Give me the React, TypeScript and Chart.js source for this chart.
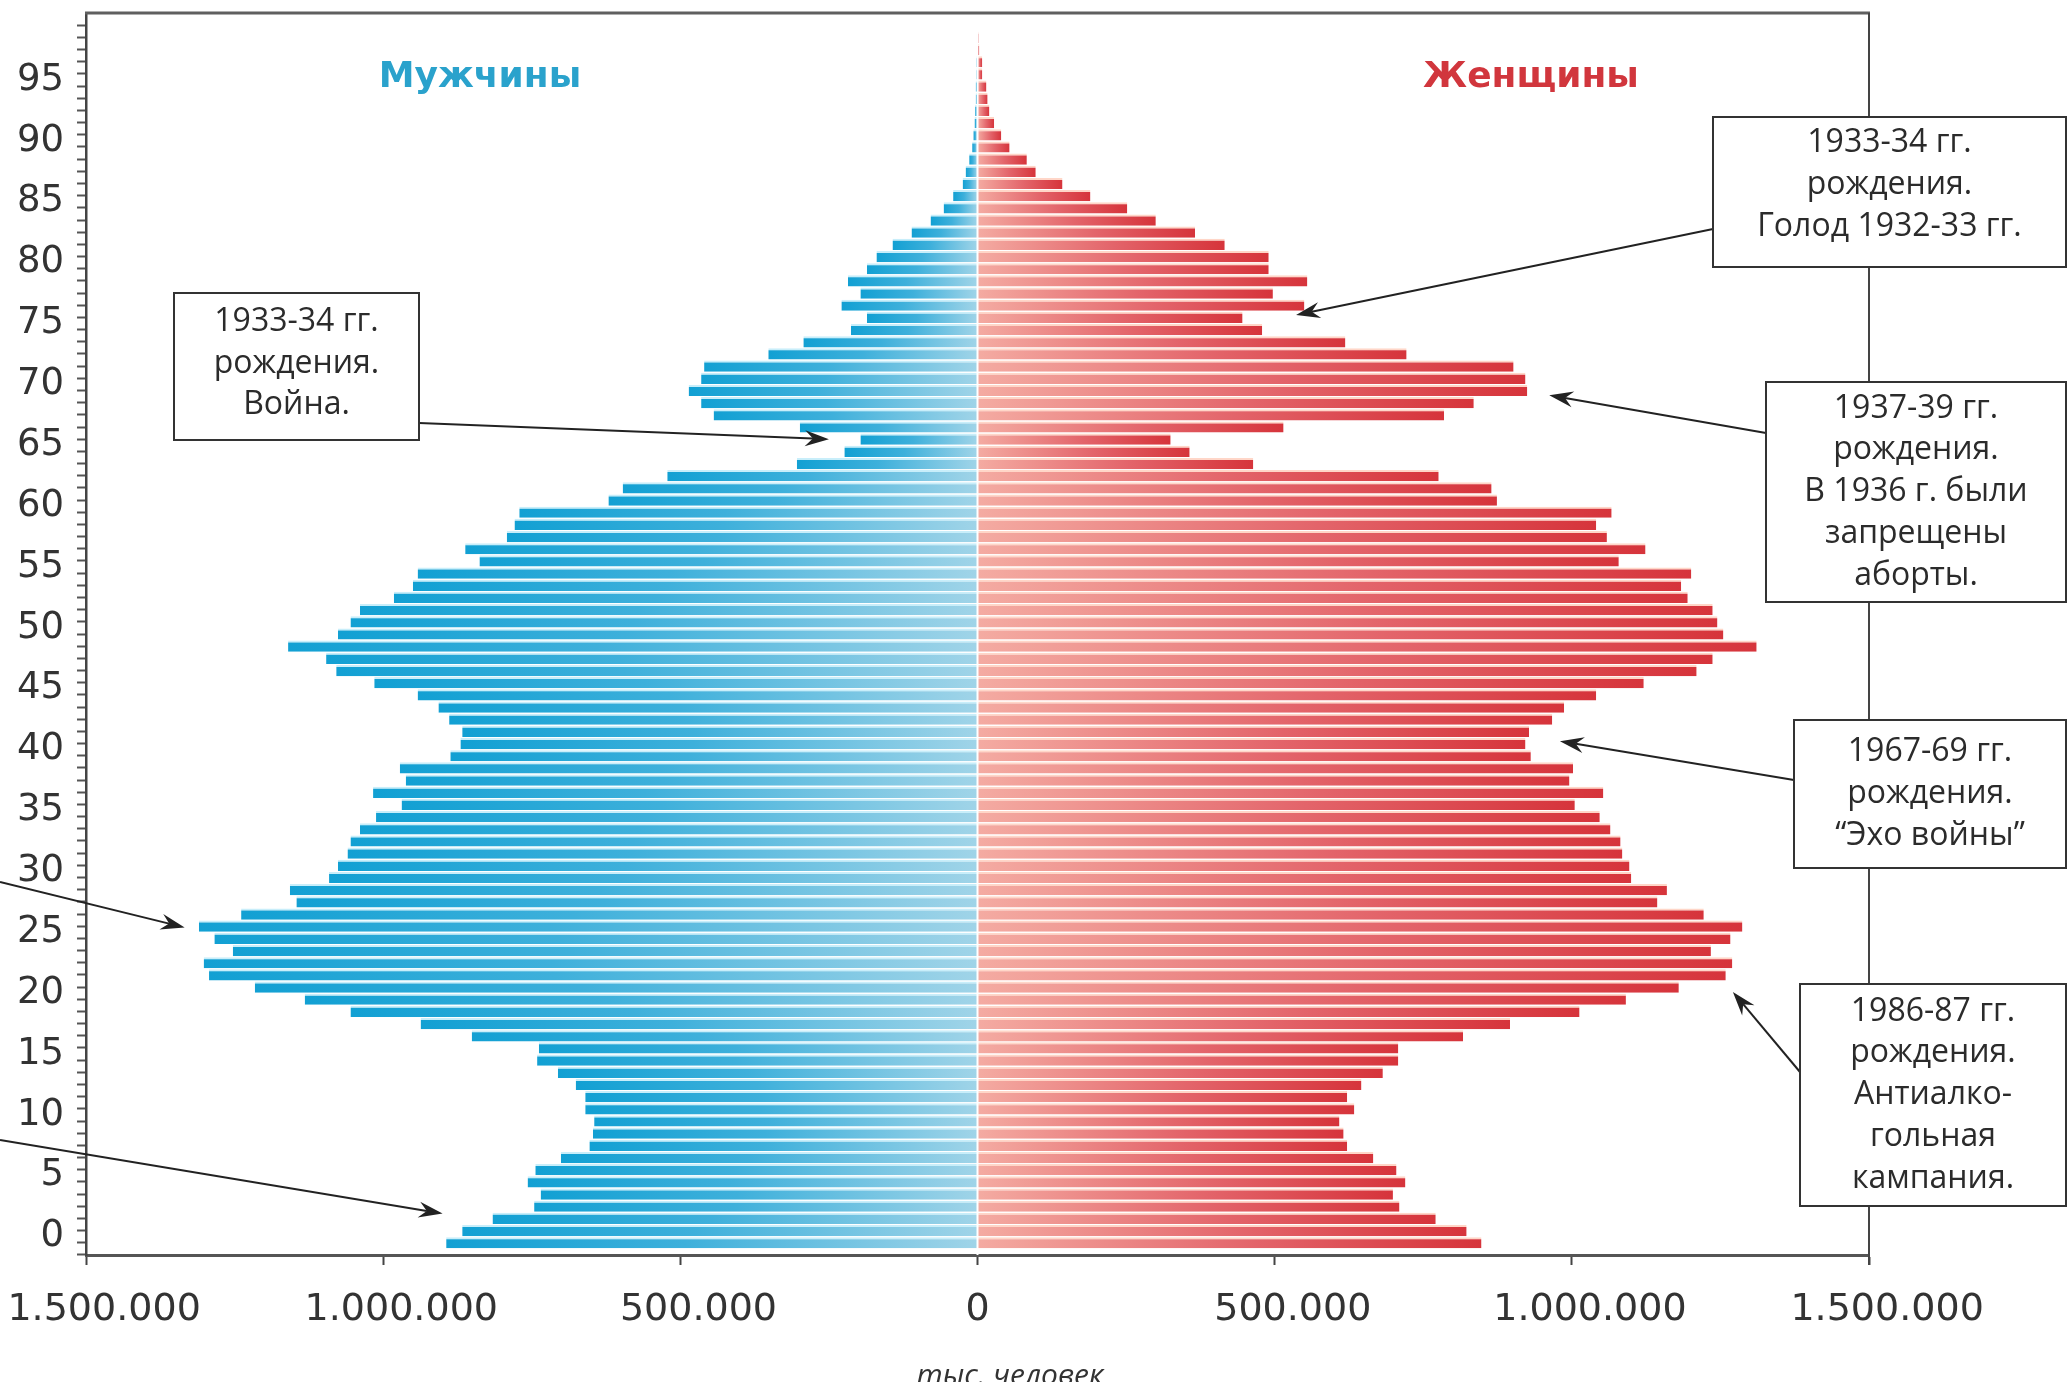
import React, { useEffect, useRef } from 'react';
import { Chart, registerables } from 'chart.js';

Chart.register(...registerables);

// Age (single years), bottom bar = 0
const ages = [
  0, 1, 2, 3, 4, 5, 6, 7, 8, 9, 10, 11, 12, 13, 14, 15, 16, 17, 18, 19,
  20, 21, 22, 23, 24, 25, 26, 27, 28, 29, 30, 31, 32, 33, 34, 35, 36, 37, 38, 39,
  40, 41, 42, 43, 44, 45, 46, 47, 48, 49, 50, 51, 52, 53, 54, 55, 56, 57, 58, 59,
  60, 61, 62, 63, 64, 65, 66, 67, 68, 69, 70, 71, 72, 73, 74, 75, 76, 77, 78, 79,
  80, 81, 82, 83, 84, 85, 86, 87, 88, 89, 90, 91, 92, 93, 94, 95, 96, 97, 98, 99,
];

// Мужчины (persons), by age 0..99
const male = [
  894000, 867000, 816000, 746000, 735000, 757000, 744000, 701000, 653000, 647000,
  645000, 660000, 660000, 676000, 706000, 741000, 738000, 851000, 937000, 1055000,
  1132000, 1216000, 1293000, 1302000, 1253000, 1284000, 1310000, 1239000, 1146000, 1157000,
  1091000, 1076000, 1060000, 1055000, 1039000, 1012000, 969000, 1017000, 962000, 972000,
  887000, 870000, 867000, 889000, 907000, 942000, 1015000, 1079000, 1096000, 1160000,
  1076000, 1055000, 1039000, 982000, 950000, 942000, 838000, 862000, 792000, 779000,
  771000, 621000, 597000, 522000, 304000, 224000, 197000, 299000, 444000, 465000,
  486000, 465000, 460000, 352000, 293000, 213000, 186000, 229000, 197000, 218000,
  186000, 170000, 143000, 111000, 79000, 57000, 41000, 25000, 20000, 14000,
  9000, 7000, 5000, 4000, 3000, 3000, 2000, 2000, 1000, 1000,
];

// Женщины (persons), by age 0..99
const female = [
  848000, 823000, 771000, 710000, 699000, 720000, 705000, 666000, 622000, 616000,
  609000, 634000, 622000, 646000, 682000, 708000, 708000, 817000, 896000, 1013000,
  1091000, 1180000, 1259000, 1270000, 1234000, 1267000, 1287000, 1222000, 1144000, 1160000,
  1100000, 1097000, 1085000, 1082000, 1065000, 1047000, 1005000, 1053000, 996000, 1002000,
  931000, 922000, 928000, 967000, 987000, 1041000, 1121000, 1210000, 1237000, 1311000,
  1255000, 1245000, 1237000, 1195000, 1184000, 1201000, 1079000, 1124000, 1059000, 1041000,
  1067000, 874000, 865000, 776000, 464000, 357000, 325000, 515000, 785000, 835000,
  925000, 922000, 902000, 722000, 619000, 479000, 446000, 550000, 497000, 555000,
  490000, 490000, 416000, 366000, 300000, 252000, 190000, 143000, 98000, 83000,
  54000, 40000, 28000, 20000, 17000, 15000, 8000, 8000, 3000, 2000,
];

const xTickValues = [-1500000, -1000000, -500000, 0, 500000, 1000000, 1500000];
const yTickLabels = ['0', '5', '10', '15', '20', '25', '30', '35', '40', '45',
  '50', '55', '60', '65', '70', '75', '80', '85', '90', '95'];

const maleLabel = 'Мужчины';
const femaleLabel = 'Женщины';
const unitLabel = 'тыс. человек';

// Callout boxes (layout in canvas px); arrow tips given in data units (value, age)
const callouts = [
  { lines: ['1933-34 гг.', 'рождения.', 'Война.'], x: 174, y: 293, w: 245, h: 147, dy: -3,
    from: [419, 423], tip: [-250000, 66.0] },
  { lines: ['1933-34 гг.', 'рождения.', 'Голод 1932-33 гг.'], x: 1713, y: 117, w: 353, h: 150, dy: -7,
    from: [1713, 229], tip: [536000, 76.2] },
  { lines: ['1937-39 гг.', 'рождения.', 'В 1936 г. были', 'запрещены', 'аборты.'], x: 1766, y: 382, w: 300, h: 220, dy: 0,
    from: [1766, 433], tip: [962000, 69.6] },
  { lines: ['1967-69 гг.', 'рождения.', '“Эхо войны”'], x: 1794, y: 720, w: 272, h: 148, dy: 0,
    from: [1794, 780], tip: [980000, 41.2] },
  { lines: ['1986-87 гг.', 'рождения.', 'Антиалко-', 'гольная', 'кампания.'], x: 1800, y: 984, w: 266, h: 222, dy: 0,
    from: [1800, 1072], tip: [1271000, 20.6] },
];
// Arrows whose boxes lie outside the picture
const strayArrows = [
  { from: [0, 882], tip: [-1334000, 25.9] },
  { from: [0, 1140], tip: [-900000, 2.4] },
];

function fmt(v: number): string {
  const s = String(Math.abs(Math.round(v)));
  return s.replace(/\B(?=(\d{3})+(?!\d))/g, '.');
}

function drawArrow(ctx: CanvasRenderingContext2D, x1: number, y1: number, x2: number, y2: number) {
  const ang = Math.atan2(y2 - y1, x2 - x1);
  const c = Math.cos(ang), s = Math.sin(ang);
  const L = 24, W = 8, N = 16;
  const bx = x2 - c * N, by = y2 - s * N;
  ctx.beginPath();
  ctx.moveTo(x1, y1);
  ctx.lineTo(bx, by);
  ctx.stroke();
  ctx.beginPath();
  ctx.moveTo(x2, y2);
  ctx.lineTo(x2 - L * c + W * s, y2 - L * s - W * c);
  ctx.lineTo(bx, by);
  ctx.lineTo(x2 - L * c - W * s, y2 - L * s + W * c);
  ctx.closePath();
  ctx.fill();
}

function barGradient(context: any, side: 'm' | 'f') {
  const dark = side === 'm' ? '#14a0d2' : '#d6343b';
  if (context.type !== 'data') return dark;
  const chart = context.chart;
  const xs = chart.scales?.x;
  if (!chart.chartArea || !xs) return dark;
  const v = context.parsed?.x ?? 0;
  const x0 = xs.getPixelForValue(0);
  const x1 = xs.getPixelForValue(v);
  if (Math.abs(x1 - x0) < 2) return dark;
  const g = chart.ctx.createLinearGradient(x1, 0, x0, 0);
  if (side === 'm') {
    g.addColorStop(0, '#12a0d3');
    g.addColorStop(0.45, '#3eb0db');
    g.addColorStop(1, '#a0d4e8');
  } else {
    g.addColorStop(0, '#d6343b');
    g.addColorStop(0.45, '#e3646a');
    g.addColorStop(1, '#f4aba2');
  }
  return g;
}

const overlayPlugin = {
  id: 'pyramidOverlay',
  afterDatasetsDraw(chart: any) {
    const { ctx, chartArea, scales } = chart;
    const x0 = scales.x.getPixelForValue(0);
    ctx.save();
    ctx.fillStyle = '#ffffff';
    ctx.fillRect(x0 - 1, chartArea.top + 2, 2, chartArea.bottom - chartArea.top - 2);
    ctx.restore();
  },
  afterDraw(chart: any) {
    const { ctx, chartArea, scales } = chart;
    const xs = scales.x, ys = scales.y;
    ctx.save();
    // frame: top and right
    ctx.strokeStyle = '#5f5f5f';
    ctx.lineWidth = 3;
    ctx.beginPath();
    ctx.moveTo(chartArea.left - 1, chartArea.top);
    ctx.lineTo(chartArea.right + 1, chartArea.top);
    ctx.stroke();
    ctx.strokeStyle = '#444';
    ctx.lineWidth = 2;
    ctx.beginPath();
    ctx.moveTo(chartArea.right, chartArea.top);
    ctx.lineTo(chartArea.right, chartArea.bottom + 10);
    ctx.stroke();

    // side titles
    ctx.font = 'bold 36px "DejaVu Sans"';
    ctx.textAlign = 'center';
    ctx.textBaseline = 'alphabetic';
    ctx.fillStyle = '#2aa2cc';
    ctx.fillText(maleLabel, 480, 87);
    ctx.fillStyle = '#d1363d';
    ctx.fillText(femaleLabel, 1531, 87);

    // unit label
    ctx.font = 'italic 30px "Open Sans"';
    ctx.fillStyle = '#333';
    ctx.fillText(unitLabel, 1010, 1385);

    // arrows
    ctx.strokeStyle = '#222';
    ctx.fillStyle = '#222';
    ctx.lineWidth = 2;
    const tipPx = (t: number[]) => [xs.getPixelForValue(t[0]), ys.getPixelForValue(t[1])];
    for (const a of strayArrows) {
      const [tx, ty] = tipPx(a.tip);
      drawArrow(ctx, a.from[0], a.from[1], tx, ty);
    }
    for (const c of callouts) {
      const [tx, ty] = tipPx(c.tip);
      drawArrow(ctx, c.from[0], c.from[1], tx, ty);
    }
    // boxes
    for (const c of callouts) {
      ctx.fillStyle = '#ffffff';
      ctx.fillRect(c.x, c.y, c.w, c.h);
      ctx.strokeStyle = '#333';
      ctx.lineWidth = 2;
      ctx.strokeRect(c.x, c.y, c.w, c.h);
      ctx.fillStyle = '#2b2b2b';
      ctx.font = '32px "Open Sans"';
      ctx.textAlign = 'center';
      ctx.textBaseline = 'middle';
      const lh = 41.7;
      const cy = c.y + c.h / 2 + c.dy;
      const start = cy - ((c.lines.length - 1) * lh) / 2;
      c.lines.forEach((ln, i) => ctx.fillText(ln, c.x + c.w / 2, start + i * lh));
    }
    ctx.restore();
  },
};

export default function App() {
  const ref = useRef<HTMLCanvasElement | null>(null);

  useEffect(() => {
    if (!ref.current) return;
    const chart = new Chart(ref.current, {
      type: 'bar',
      data: {
        datasets: [
          {
            label: maleLabel,
            data: ages.map((a, i) => ({ x: -male[i], y: a })),
            backgroundColor: (c: any) => barGradient(c, 'm'),
            borderColor: '#c8eefa',
            borderWidth: { top: 2, right: 0, bottom: 0, left: 0 },
            borderSkipped: false,
            grouped: false,
            barPercentage: 0.92,
            categoryPercentage: 1,
          },
          {
            label: femaleLabel,
            data: ages.map((a, i) => ({ x: female[i], y: a })),
            backgroundColor: (c: any) => barGradient(c, 'f'),
            borderColor: '#ffd6c8',
            borderWidth: { top: 2, right: 0, bottom: 0, left: 0 },
            borderSkipped: false,
            grouped: false,
            barPercentage: 0.92,
            categoryPercentage: 1,
          },
        ],
      } as any,
      options: {
        indexAxis: 'y',
        animation: false,
        responsive: false,
        maintainAspectRatio: false,
        devicePixelRatio: 1,
        layout: { padding: { top: 13, right: 200, bottom: 0, left: 0 } },
        plugins: {
          legend: { display: false },
          tooltip: { enabled: false },
        },
        scales: {
          x: {
            type: 'linear',
            min: -1500000,
            max: 1500000,
            afterBuildTicks: (scale: any) => {
              scale.ticks = xTickValues.map((v) => ({ value: v }));
            },
            afterFit: (scale: any) => {
              scale.height = 127;
              scale.paddingLeft = 0;
              scale.paddingRight = 0;
            },
            ticks: {
              autoSkip: false,
              maxRotation: 0,
              padding: 22,
              color: '#333',
              font: { family: 'DejaVu Sans', size: 38 },
              callback: (v: any) => (Number(v) === 0 ? '0' : '   ' + fmt(Number(v))),
            },
            grid: {
              display: true,
              drawOnChartArea: false,
              drawTicks: true,
              tickLength: 10,
              tickColor: '#444',
              tickWidth: 2,
            },
            border: { display: true, color: '#555', width: 3 },
          },
          y: {
            type: 'linear',
            min: -0.5,
            max: 100.5,
            afterBuildTicks: (scale: any) => {
              scale.ticks = [-1, ...ages].map((a) => ({ value: a + 0.5 }));
            },
            afterFit: (scale: any) => {
              scale.width = 86;
              scale.paddingTop = 0;
              scale.paddingBottom = 0;
            },
            ticks: {
              autoSkip: false,
              padding: 13,
              color: '#333',
              font: { family: 'DejaVu Sans', size: 37 },
              callback: (v: any) => {
                const k = Math.round(Number(v) - 0.5);
                return k % 5 === 0 && k >= 0 ? (yTickLabels[k / 5] ?? '') : '';
              },
            },
            grid: {
              display: true,
              drawOnChartArea: false,
              drawTicks: true,
              tickLength: 9,
              tickColor: '#555',
              tickWidth: 2,
            },
            border: { display: true, color: '#444', width: 2.5 },
          },
        },
      } as any,
      plugins: [overlayPlugin],
    });
    return () => chart.destroy();
  }, []);

  return (
    <div style={{ position: 'absolute', left: 0, top: 0, width: 2069, height: 1382, background: '#fff', overflow: 'hidden' }}>
      <canvas ref={ref} width={2069} height={1382} style={{ display: 'block', width: 2069, height: 1382 }} />
    </div>
  );
}
